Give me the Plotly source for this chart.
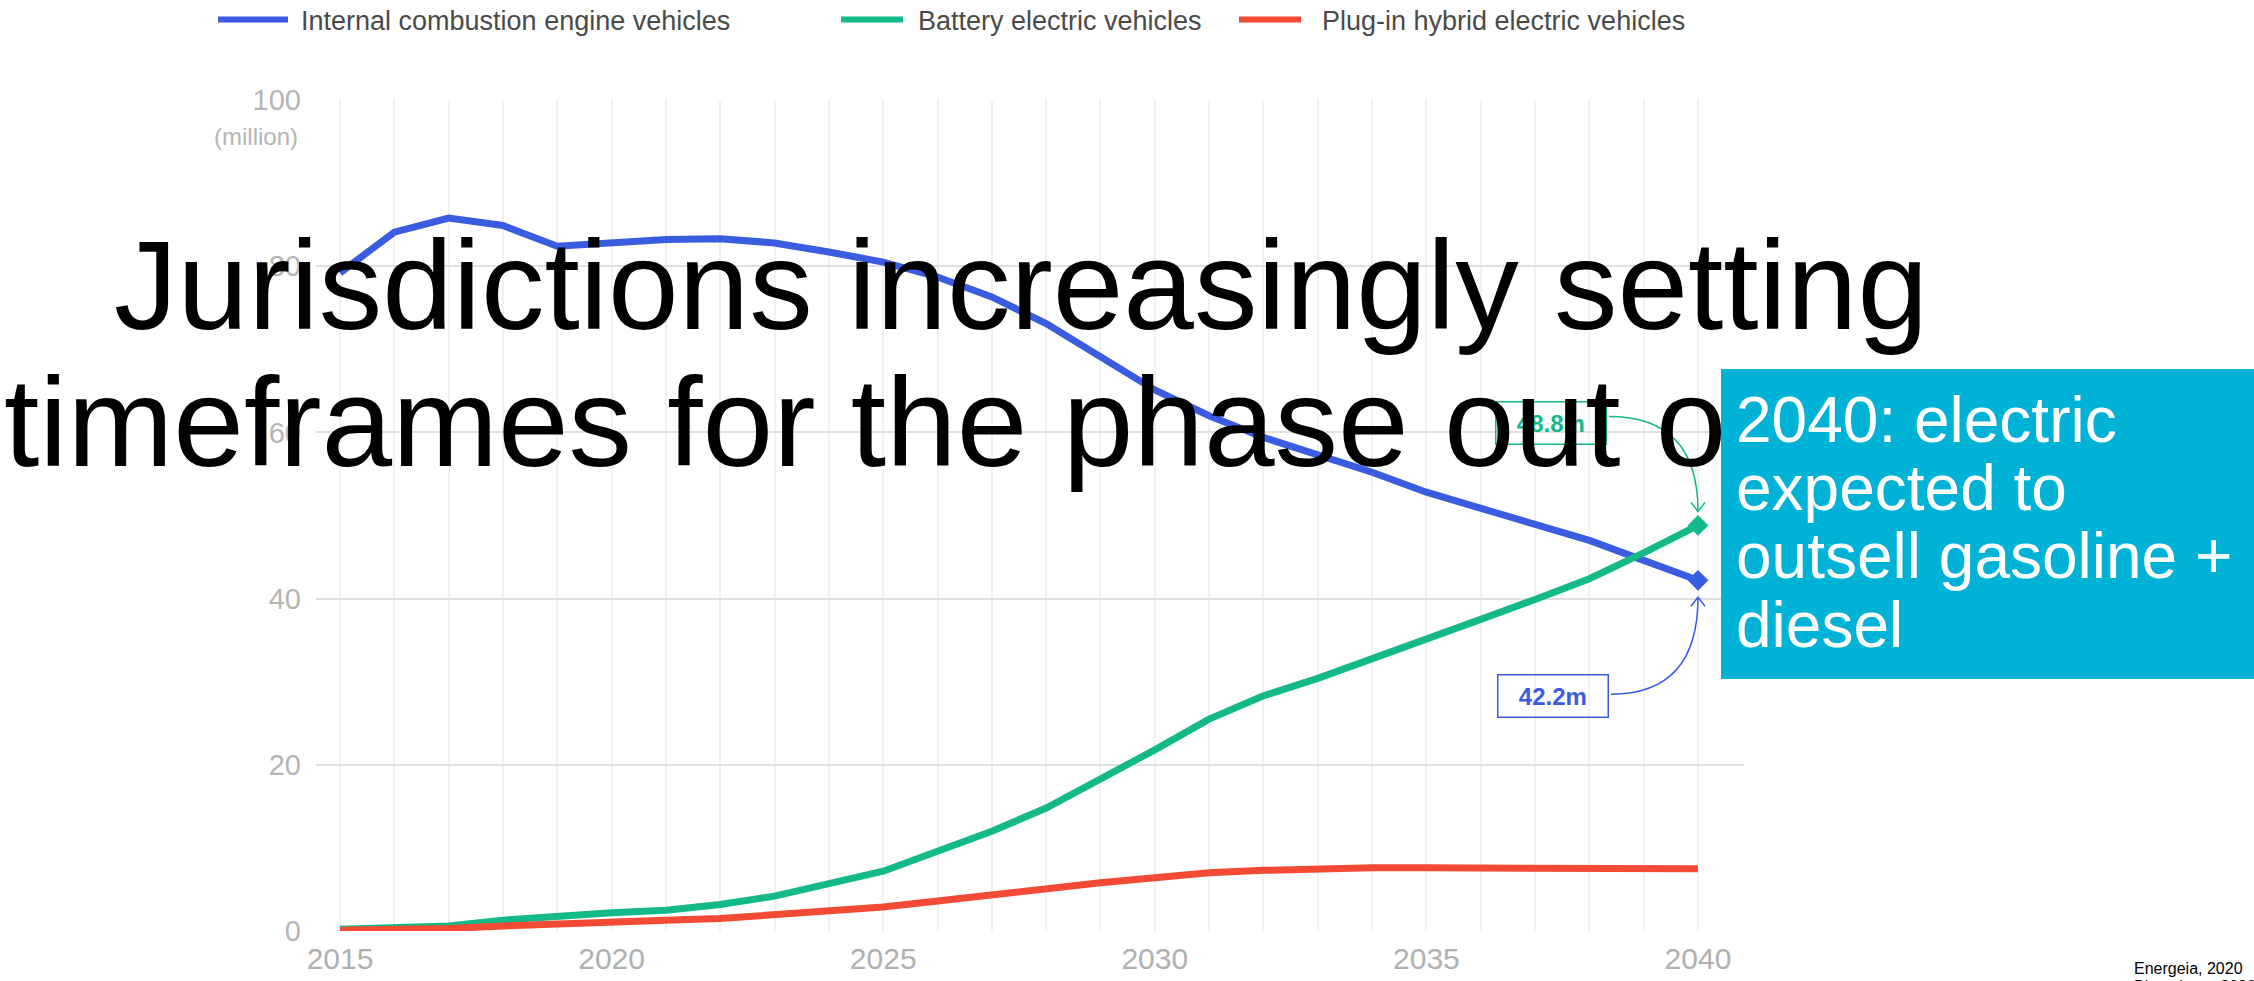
import plotly.graph_objects as go

# ---------------- data ----------------
years = list(range(2015, 2041))
ice = [79.2, 84.1, 85.8, 84.9, 82.4, 82.8, 83.2, 83.3, 82.8, 81.7, 80.5, 78.7, 76.3,
       73.1, 69.1, 65.1, 62.0, 59.4, 57.3, 55.2, 52.8, 50.8, 48.8, 47.0, 44.6, 42.2]
bev = [0.2, 0.3, 0.6, 1.3, 1.8, 2.2, 2.5, 3.2, 4.2, 5.7, 7.2, 9.6, 12.0,
       14.8, 18.2, 21.8, 25.5, 28.3, 30.4, 32.7, 35.2, 37.5, 39.9, 42.4, 45.5, 48.8]
phev = [0.1, 0.1, 0.3, 0.6, 0.9, 1.1, 1.3, 1.5, 1.9, 2.4, 2.9, 3.6, 4.4,
        5.1, 5.8, 6.4, 7.0, 7.3, 7.5, 7.6, 7.6, 7.6, 7.5, 7.4, 7.5, 7.5]
series_names = ["Internal combustion engine vehicles", "Battery electric vehicles",
                "Plug-in hybrid electric vehicles"]
x_ticks = [2015, 2020, 2025, 2030, 2035, 2040]
y_ticks = [0, 20, 40, 60, 80, 100]
title_lines = ["Jurisdictions increasingly setting", "timeframes for the phase out of ICE"]
box_lines = ["2040: electric", "expected to", "outsell gasoline +", "diesel"]
sources = ["Energeia, 2020", "Bloomberg, 2020"]

# ---------------- layout geometry ----------------
W, H = 2254, 981
ML, MR, MT, MB = 316, 510, 99.5, 50
XR = [2014.558, 2040.847]
YR = [0, 100]
PW, PH = W - ML - MR, H - MT - MB
PPX = PW / (XR[1] - XR[0])
PPY = PH / (YR[1] - YR[0])

BLUE, GREEN, RED = "#3a5ce0", "#14b98a", "#f24a35"
CYAN = "#00b2d6"
FONT = "Liberation Sans, Arial, sans-serif"


def px(xp):
    return (xp - ML) / PW


def py(yp):
    return (H - MB - yp) / PH


def rel(x0, y0, ox, oy):
    """data point offset by pixels (oy positive = down)"""
    return x0 + ox / PPX, y0 - oy / PPY


fig = go.Figure()
colors = [BLUE, GREEN, RED]
for name, vals, c in zip(series_names, [ice, bev, phev], colors):
    fig.add_trace(go.Scatter(x=years, y=vals, mode="lines", name=name,
                             line=dict(color=c, width=7), cliponaxis=False,
                             showlegend=False, hoverinfo="skip"))
for vals, c in [(ice, BLUE), (bev, GREEN)]:
    fig.add_trace(go.Scatter(x=[years[-1]], y=[vals[-1]], mode="markers",
                             marker=dict(symbol="diamond", size=16, color=c),
                             cliponaxis=False, showlegend=False, hoverinfo="skip"))

shapes = []
annotations = []

# custom legend
leg_y = 19
leg_items = [(218, 288, 299), (841, 903, 916), (1239, 1301, 1320)]
for (x0, x1, tx), name, c in zip(leg_items, series_names, colors):
    shapes.append(dict(type="line", xref="paper", yref="paper", x0=px(x0), x1=px(x1),
                       y0=py(leg_y), y1=py(leg_y), line=dict(color=c, width=6)))
    annotations.append(dict(xref="paper", yref="paper", x=px(tx), y=py(leg_y + 1),
                            text=name, showarrow=False, xanchor="left", yanchor="middle",
                            font=dict(family=FONT, size=27, color="#4a4a4a")))

annotations.append(dict(xref="paper", yref="paper", x=px(300), y=py(136), text="(million)",
                        showarrow=False, xanchor="right", yanchor="middle",
                        font=dict(family=FONT, size=24, color="#b5b5b5")))

# value callouts with curved arrows
xl = years[-1]
pad = "&nbsp;&nbsp;"
for vals, c, box_off, start_off, tip_off, sign in [
        (bev, GREEN, (-147, -103), (-89, -109), (0, -14), -1),
        (ice, BLUE, (-145, 116), (-87, 114), (0, 17), 1)]:
    yl = vals[-1]
    bx, by = rel(xl, yl, *box_off)
    annotations.append(dict(x=bx, y=by, xref="x", yref="y",
                            text=pad + "<b>%.1fm</b>" % yl + pad,
                            showarrow=False, xanchor="center", yanchor="middle",
                            borderpad=7, borderwidth=1.5,
                            bordercolor=c, bgcolor="rgba(255,255,255,0)",
                            font=dict(family=FONT, size=24, color=c)))
    sx, sy = rel(xl, yl, *start_off)
    cx, cy = rel(xl, yl, 0, start_off[1])
    tx, ty = rel(xl, yl, *tip_off)
    shapes.append(dict(type="path", xref="x", yref="y",
                       path="M %f,%f Q %f,%f %f,%f" % (sx, sy, cx, cy, tx, ty),
                       line=dict(color=c, width=1.5), layer="above"))
    ax1, ay1 = rel(xl, yl, -7, tip_off[1] + sign * 9)
    ax2, ay2 = rel(xl, yl, 7, tip_off[1] + sign * 9)
    shapes.append(dict(type="path", xref="x", yref="y",
                       path="M %f,%f L %f,%f L %f,%f" % (ax1, ay1, tx, ty, ax2, ay2),
                       line=dict(color=c, width=1.5), layer="above"))

# big title (overlaid)
TS = 127
for txt, xl0, base in zip(title_lines, [112, 2], [329, 466]):
    annotations.append(dict(xref="paper", yref="paper", x=px(xl0), y=py(base - 0.3465 * TS),
                            text=txt, showarrow=False, xanchor="left", yanchor="middle",
                            font=dict(family=FONT, size=TS, color="black")))

# cyan box
annotations.append(dict(xref="paper", yref="paper", x=px(1721), y=py(369), text=" ",
                        showarrow=False, xanchor="left", yanchor="top", width=533, height=310,
                        borderpad=0, borderwidth=0, bgcolor=CYAN,
                        font=dict(family=FONT, size=10, color=CYAN)))
BS = 64
for txt, base in zip(box_lines, [442, 510, 578, 647]):
    annotations.append(dict(xref="paper", yref="paper", x=px(1734), y=py(base - 0.3465 * BS),
                            text=txt, showarrow=False, xanchor="left", yanchor="middle",
                            font=dict(family=FONT, size=BS, color="white")))

for txt, base in zip(sources, [974, 992]):
    annotations.append(dict(xref="paper", yref="paper", x=px(2132), y=py(base - 0.3465 * 16),
                            text=txt, showarrow=False, xanchor="left", yanchor="middle",
                            font=dict(family=FONT, size=16, color="black")))

fig.update_layout(
    width=W, height=H, autosize=False,
    margin=dict(l=ML, r=MR, t=MT, b=MB, pad=0, autoexpand=False),
    paper_bgcolor="white", plot_bgcolor="white",
    showlegend=False,
    xaxis=dict(range=XR, tickvals=x_ticks, showgrid=True, gridcolor="#f1f1f1", gridwidth=1.5,
               minor=dict(dtick=1, tick0=2015, showgrid=True, gridcolor="#f1f1f1", gridwidth=1.5),
               zeroline=False, showline=False, ticks="", ticklabelstandoff=7, automargin=False,
               tickfont=dict(family=FONT, size=30, color="#b0b0b0"), fixedrange=True),
    yaxis=dict(range=YR, tickvals=y_ticks, showgrid=True, gridcolor="#e0e0e0", gridwidth=2,
               zeroline=False, showline=False, ticks="", ticklabelstandoff=14, automargin=False,
               tickfont=dict(family=FONT, size=29, color="#b5b5b5"), fixedrange=True),
    shapes=shapes, annotations=annotations,
)

fig.write_html("out.html", config=dict(displayModeBar=False),
               post_script="document.body.style.margin='0';document.body.style.overflow='hidden';")
